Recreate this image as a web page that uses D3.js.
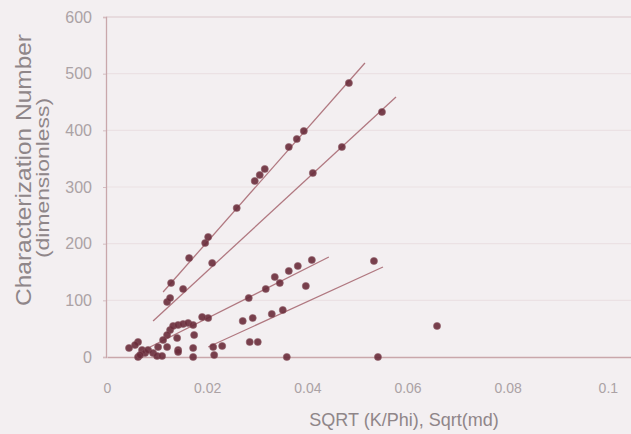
<!DOCTYPE html>
<html><head><meta charset="utf-8">
<script src="https://cdn.jsdelivr.net/npm/d3@7"></script>
<style>
html,body{margin:0;padding:0;background:#f3eff1;}
svg{display:block;}
text{font-family:"Liberation Sans",Arial,sans-serif;}
</style></head>
<body><svg id="c" width="631" height="434"></svg>
<script>
// Data
const xTicks = [0, 0.02, 0.04, 0.06, 0.08, 0.1];
const yTicks = [0, 100, 200, 300, 400, 500, 600];
const xTitle = "SQRT (K/Phi), Sqrt(md)";
const yTitle1 = "Characterization Number";
const yTitle2 = "(dimensionless)";

const seriesA = [[0.0128,130.6],[0.0164,174.7],[0.0196,201.2],[0.0202,211.8],[0.0259,262.9],[0.0295,310.6],[0.0305,321.2],[0.0315,331.8],[0.0363,370.6],[0.0379,384.7],[0.0393,398.8],[0.0483,483.5]];
const seriesB = [[0.0120,97.1],[0.0126,104.1],[0.0152,120.0],[0.0210,165.9],[0.0411,324.7],[0.0469,370.6],[0.0549,432.4]];
const seriesC = [[0.0409,171.2],[0.0381,160.6],[0.0363,151.8],[0.0345,130.6],[0.0335,141.2],[0.0317,120.0],[0.0283,104.1],[0.0397,125.3],[0.0202,68.8],[0.0190,70.6],[0.0126,47.6],[0.0132,54.7],[0.0142,56.5],[0.0152,58.2],[0.0162,60.0],[0.0172,56.5],[0.0174,38.8],[0.0140,33.5],[0.0120,38.8],[0.0112,30.0],[0.0062,26.5],[0.0044,15.9],[0.0070,12.4],[0.0076,7.1],[0.0062,0],[0.0082,12.4],[0.0092,7.1],[0.0100,1.8],[0.0110,1.8],[0.0142,12.4],[0.0142,8.8],[0.0172,15.9],[0.0172,0],[0.0120,17.6],[0.0102,17.6],[0.0066,3.5],[0.0056,21.2]];
const seriesD = [[0.0533,169.4],[0.0351,82.9],[0.0329,75.9],[0.0291,68.8],[0.0271,63.5],[0.0301,26.5],[0.0285,26.5],[0.0230,19.4],[0.0212,17.6],[0.0214,3.5],[0.0359,0],[0.0541,0],[0.0659,54.7]];
// trend lines: [x0, y0, x1, y1]
const trendA = [0.0112,114.7,0.0515,518.8];
const trendB = [0.0092,63.5,0.0577,458.8];
const trendC = [0.0086,17.6,0.0443,176.5];
const trendD = [0.0202,17.6,0.0551,158.8];

const svg = d3.select("#c");
const x = d3.scaleLinear().domain([0, 0.12]).range([107, 708]);
const y = d3.scaleLinear().domain([0, 600]).range([357, 17]);

// gridlines
svg.append("g").selectAll("line").data(yTicks.filter(d=>d>0)).join("line")
  .attr("x1", 106).attr("x2", 631).attr("y1", d=>y(d)).attr("y2", d=>y(d))
  .attr("stroke", d=>d===600?"#dcc8cc":"#ebe1e4").attr("stroke-width", 1.2);

// axes
const xAxis = svg.append("g").attr("transform","translate(0,357)")
  .call(d3.axisBottom(x).tickValues(xTicks).tickSize(0).tickPadding(26).tickFormat(d=>d3.format("~g")(d)));
xAxis.select(".domain").attr("stroke","#c9a7ab").attr("stroke-width",1.3);
xAxis.selectAll("text").attr("fill","#aba2a5").attr("font-size","14px");

const yAxis = svg.append("g").attr("transform","translate(106,0)")
  .call(d3.axisLeft(y).tickValues(yTicks).tickSize(3).tickPadding(11));
yAxis.select(".domain").attr("stroke","#c9a7ab").attr("stroke-width",1.3);
yAxis.selectAll(".tick line").attr("stroke","#d4bcc0");
yAxis.selectAll("text").attr("fill","#aba2a5").attr("font-size","16px");

// titles
svg.append("text").attr("x",404).attr("y",426).attr("text-anchor","middle")
  .attr("fill","#8f8689").attr("font-size","18px").text(xTitle);
svg.append("text").attr("transform","translate(31,170) rotate(-90)").attr("text-anchor","middle")
  .attr("fill","#8f8689").attr("font-size","22px")
  .attr("textLength",272).attr("lengthAdjust","spacingAndGlyphs").text(yTitle1);
svg.append("text").attr("transform","translate(49,178) rotate(-90)").attr("text-anchor","middle")
  .attr("fill","#8f8689").attr("font-size","18px")
  .attr("textLength",160).attr("lengthAdjust","spacingAndGlyphs").text(yTitle2);

// trend lines
svg.append("g").selectAll("line").data([trendA,trendB,trendC,trendD]).join("line")
  .attr("x1", d=>x(d[0])).attr("y1", d=>y(d[1])).attr("x2", d=>x(d[2])).attr("y2", d=>y(d[3]))
  .attr("stroke","#b07880").attr("stroke-width",1.3);

// points
const pts = [].concat(seriesA, seriesB, seriesC, seriesD);
svg.append("g").selectAll("path").data(pts).join("path")
  .attr("transform", d=>`translate(${x(d[0])},${y(d[1])})`)
  .attr("d", d3.symbol().type(d3.symbolCircle).size(40))
  .attr("fill","#6a2c3b").attr("stroke","#8a5560").attr("stroke-width",0.6).attr("opacity",0.9);
</script></body></html>
